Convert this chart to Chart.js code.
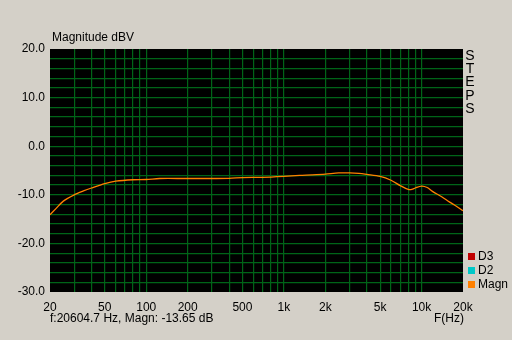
<!DOCTYPE html>
<html>
<head>
<meta charset="utf-8">
<script src="https://cdn.jsdelivr.net/npm/chart.js@4"></script>
<style>
  html, body { margin: 0; padding: 0; background: #d4d0c8; }
  #wrap { width: 512px; height: 340px; position: relative; }
</style>
</head>
<body>
<div id="wrap"><canvas id="magChart" width="512" height="340"></canvas></div>
<script>
// frequency (Hz) and magnitude (dBV)
const freqs = [20, 22, 25, 30, 35, 40, 50, 60, 80, 100, 125, 200, 400, 500, 700, 1000, 1300, 1600, 2000, 2500, 3000, 3500, 4000, 5000, 6000, 7000, 8000, 8500, 9000, 10000, 11000, 12000, 14000, 16000, 18000, 20000, 20600];
const magn = [-14.1, -12.9, -11.3, -10.0, -9.2, -8.6, -7.7, -7.2, -6.9, -6.85, -6.65, -6.65, -6.6, -6.45, -6.4, -6.2, -6.0, -5.9, -5.75, -5.5, -5.5, -5.6, -5.8, -6.2, -7.0, -8.1, -8.9, -8.9, -8.6, -8.2, -8.5, -9.3, -10.4, -11.5, -12.4, -13.3, -13.65];

const xGridTicks = [20, 30, 40, 50, 60, 70, 80, 90, 100, 200, 300, 400, 500, 600, 700, 800, 900,
  1000, 2000, 3000, 4000, 5000, 6000, 7000, 8000, 9000, 10000, 20000];
const xLabels = { 20: '20', 50: '50', 100: '100', 200: '200', 500: '500', 1000: '1k', 2000: '2k', 5000: '5k', 10000: '10k', 20000: '20k' };

const legendItems = [
  { label: 'D3', color: '#c00000' },
  { label: 'D2', color: '#00c8c8' },
  { label: 'Magn', color: '#ff8000' }
];

const gridGreen = '#006418';
const fontFamily = '"Liberation Sans", Arial, sans-serif';

// black plot area + texts around the plot
const decor = {
  id: 'decor',
  beforeDraw(chart) {
    const { ctx, chartArea } = chart;
    ctx.save();
    ctx.fillStyle = '#000';
    ctx.fillRect(chartArea.left, chartArea.top, chartArea.right - chartArea.left, chartArea.bottom - chartArea.top);
    ctx.restore();
  },
  afterDraw(chart) {
    const { ctx, chartArea } = chart;
    ctx.save();
    ctx.font = '12px ' + fontFamily;
    ctx.fillStyle = '#000';
    ctx.textBaseline = 'middle';
    ctx.textAlign = 'left';
    ctx.fillText('Magnitude dBV', 52, 38);
    ctx.fillText('f:20604.7 Hz, Magn: -13.65 dB', 50, 319);
    ctx.fillText('F(Hz)', 434, 319);

    // vertical STEPS label
    ctx.font = '14px ' + fontFamily;
    ctx.textAlign = 'center';
    'STEPS'.split('').forEach((c, i) => ctx.fillText(c, 470, 56 + i * 13.3));

    ctx.font = '12px ' + fontFamily;
    ctx.textAlign = 'left';
    legendItems.forEach((it, i) => {
      const y = 256 + i * 14;
      ctx.fillStyle = it.color;
      ctx.fillRect(chartArea.right + 5, y - 3, 7, 7);
      ctx.fillStyle = '#000';
      ctx.fillText(it.label, chartArea.right + 15, y + 1);
    });
    ctx.restore();
  }
};

new Chart(document.getElementById('magChart'), {
  type: 'line',
  data: {
    datasets: [{
      label: 'Magn',
      data: freqs.map((f, i) => ({ x: f, y: magn[i] })),
      borderColor: '#ff8000',
      borderWidth: 1.3,
      pointRadius: 0,
      tension: 0.3,
      fill: false
    }]
  },
  options: {
    responsive: false,
    animation: false,
    events: [],
    layout: { padding: { top: 49, right: 49, bottom: 0, left: 0 } },
    plugins: { legend: { display: false }, tooltip: { enabled: false } },
    scales: {
      x: {
        type: 'logarithmic',
        min: 20,
        max: 20000,
        afterBuildTicks(scale) {
          scale.ticks = xGridTicks.map(v => ({ value: v }));
        },
        afterFit(scale) { scale.height = 48; },
        border: { display: false },
        grid: {
          color: ctx => (ctx.tick && (ctx.tick.value === 20 || ctx.tick.value === 20000)) ? 'rgba(0,0,0,0)' : gridGreen,
          lineWidth: 1.2,
          drawTicks: false
        },
        ticks: {
          autoSkip: false,
          maxRotation: 0,
          padding: 8,
          color: '#000',
          font: { family: fontFamily, size: 12 },
          callback: v => xLabels[v] || ''
        }
      },
      y: {
        min: -30,
        max: 20,
        afterFit(scale) { scale.width = 50; },
        border: { display: false },
        grid: {
          color: ctx => (ctx.tick && (ctx.tick.value === 20 || ctx.tick.value === -30)) ? 'rgba(0,0,0,0)' : gridGreen,
          lineWidth: 1.2,
          drawTicks: false
        },
        ticks: {
          stepSize: 2,
          autoSkip: false,
          padding: 5,
          color: '#000',
          font: { family: fontFamily, size: 12 },
          callback: v => (v % 10 === 0) ? v.toFixed(1) : ''
        }
      }
    }
  },
  plugins: [decor]
});
</script>
</body>
</html>
